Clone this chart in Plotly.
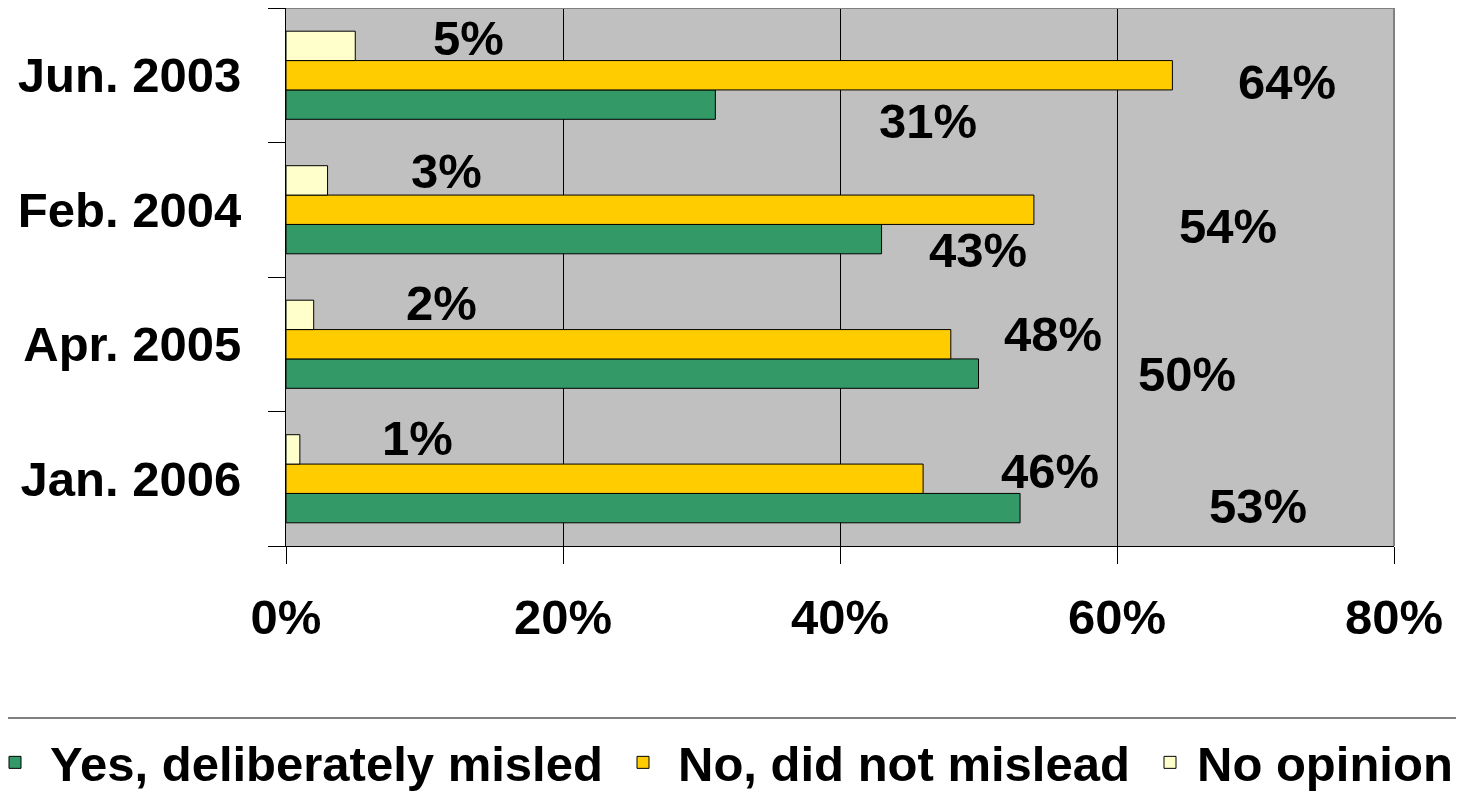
import plotly.graph_objects as go

categories = ["Jun. 2003", "Feb. 2004", "Apr. 2005", "Jan. 2006"]
series_names = ["Yes, deliberately misled", "No, did not mislead", "No opinion"]
yes_vals = [31, 43, 50, 53]
no_vals = [64, 54, 48, 46]
noop_vals = [5, 3, 2, 1]
x_ticks = [0, 20, 40, 60, 80]

colors = ["#339966", "#FFCC00", "#FFFFCC"]

# label offsets (pixels) relative to bar end / category centre: (xshift, yshift)
label_offsets = {
    "yes": [(213, -46), (96, -40), (208, -30), (238, -27)],
    "no": [(115, -7), (194, -16), (102, 10), (127, 8)],
    "noop": [(113, 37), (119, 39), (128, 41), (118, 41)],
}

FONT = dict(family="Liberation Sans, Arial, sans-serif", size=49, color="black", weight="bold")

legend_ids = ["legend", "legend2", "legend3"]

fig = go.Figure()
for name, vals, col, lg in zip(series_names, [yes_vals, no_vals, noop_vals], colors, legend_ids):
    fig.add_trace(go.Bar(
        y=categories, x=vals, name=name, orientation="h",
        marker=dict(color=col, line=dict(color="black", width=1)),
        hoverinfo="skip", legend=lg,
    ))

annotations = []
for key, vals in [("yes", yes_vals), ("no", no_vals), ("noop", noop_vals)]:
    for cat, v, (dx, dy) in zip(categories, vals, label_offsets[key]):
        annotations.append(dict(
            x=v, y=cat, xref="x", yref="y", text=f"{v}%", showarrow=False,
            xanchor="center", yanchor="middle", xshift=dx, yshift=dy, font=FONT,
        ))

# page body has an 8px margin, so figure pixel = screen pixel - 8
W, H = 1464, 809
L, R, T, B = 278, 78, 0, 271
pw, ph = W - L - R, H - T - B

def px_to_paper_x(p):
    return (p - L) / pw

def px_to_paper_y(p):
    return (H - B - p) / ph

shapes = [
    dict(type="rect", xref="paper", yref="paper",
         x0=px_to_paper_x(-7), x1=px_to_paper_x(1451),
         y0=px_to_paper_y(806), y1=px_to_paper_y(710),
         line=dict(color="#808080", width=2), fillcolor="rgba(0,0,0,0)", layer="above"),
    dict(type="line", xref="paper", yref="paper", x0=0, x1=1, y0=1, y1=1,
         line=dict(color="#808080", width=2), layer="above"),
    dict(type="line", xref="paper", yref="paper", x0=1, x1=1, y0=0, y1=1,
         line=dict(color="#808080", width=2), layer="above"),
]

def legend_box(x_px, itemwidth):
    return dict(
        orientation="h",
        x=px_to_paper_x(x_px), y=px_to_paper_y(716), xanchor="left", yanchor="top",
        font=FONT, bgcolor="rgba(0,0,0,0)", borderwidth=0, itemwidth=itemwidth,
    )

fig.update_layout(
    width=W, height=H,
    margin=dict(l=L, r=R, t=T, b=B, pad=0, autoexpand=False),
    paper_bgcolor="white", plot_bgcolor="#C0C0C0",
    barmode="group", bargap=0.345, bargroupgap=0,
    font=FONT,
    showlegend=True,
    legend=legend_box(-28, 60),
    legend2=legend_box(600, 60),
    legend3=legend_box(1135, 44),
    annotations=annotations,
    shapes=shapes,
    xaxis=dict(
        range=[0, 80], tickvals=x_ticks, ticktext=[f"{t}%" for t in x_ticks],
        showgrid=True, gridcolor="black", gridwidth=1,
        showline=True, linecolor="black", linewidth=1,
        ticks="outside", ticklen=17, tickcolor="black",
        zeroline=False, ticklabelstandoff=11, tickfont=FONT,
    ),
    yaxis=dict(
        categoryorder="array", categoryarray=categories[::-1],
        showline=True, linecolor="black", linewidth=1,
        ticks="outside", ticklen=17, tickcolor="black", tickson="boundaries",
        showgrid=False, ticklabelstandoff=34, tickfont=FONT,
    ),
)

fig.write_html("out.html")
